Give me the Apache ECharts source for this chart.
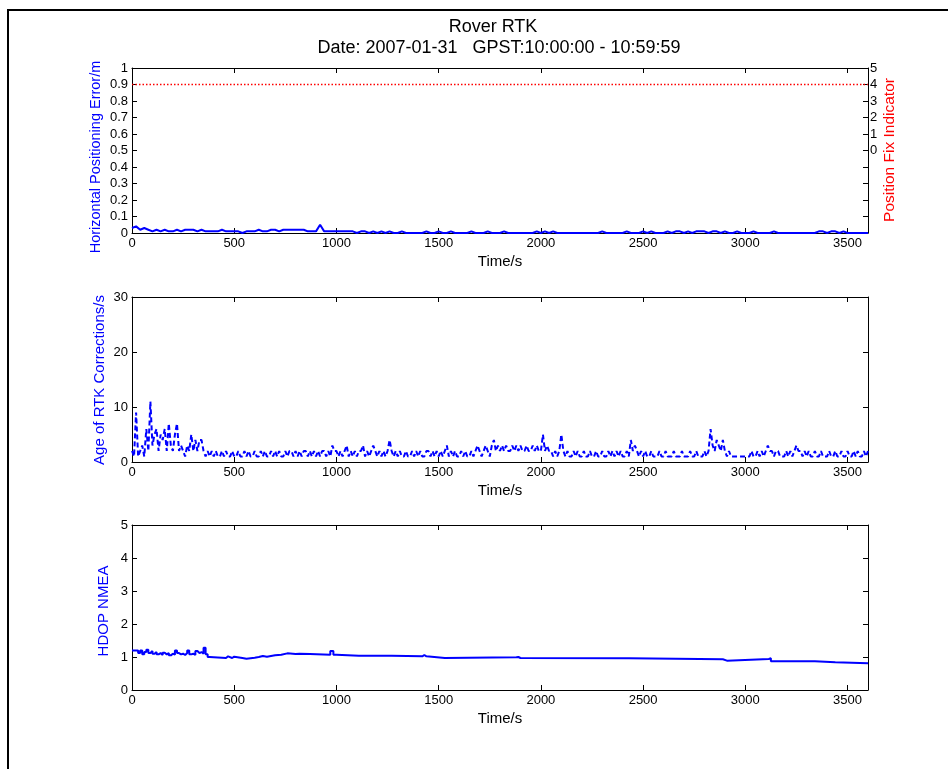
<!DOCTYPE html>
<html>
<head>
<meta charset="utf-8">
<style>
  html, body { margin: 0; padding: 0; background: #fff; }
  #chart { width: 948px; height: 769px; }
</style>
<script src="https://cdn.jsdelivr.net/npm/echarts@6/dist/echarts.min.js"></script>
</head>
<body>
<div id="chart"></div>
<script>
// Rover RTK session, 2007-01-31, one hour of data

// Horizontal positioning error (m), one sample every 20 s
const ERR_STEP = 20;
const errValues = [
  0.03,0.04,0.02,0.03,0.02,0.01,0.02,0.01,0.02,0.01,
  0.01,0.02,0.01,0.02,0.02,0.02,0.01,0.02,0.01,0.01,
  0.01,0.01,0.02,0.01,0.01,0.01,0.01,0.00,0.01,0.01,
  0.01,0.02,0.01,0.01,0.02,0.02,0.01,0.02,0.02,0.02,
  0.02,0.02,0.02,0.01,0.01,0.01,0.05,0.01,0.01,0.01,
  0.01,0.01,0.01,0.01,0.01,0.00,0.01,0.01,0.00,0.01,
  0.00,0.01,0.00,0.01,0.00,0.00,0.01,0.00,0.00,0.00,
  0.00,0.00,0.01,0.00,0.00,0.01,0.00,0.00,0.01,0.00,
  0.00,0.00,0.00,0.01,0.00,0.00,0.00,0.01,0.00,0.00,
  0.00,0.01,0.00,0.00,0.00,0.00,0.00,0.00,0.00,0.01,
  0.00,0.01,0.00,0.01,0.00,0.00,0.00,0.00,0.00,0.00,
  0.00,0.00,0.00,0.00,0.00,0.01,0.00,0.00,0.00,0.00,
  0.00,0.01,0.00,0.00,0.00,0.01,0.00,0.01,0.00,0.00,
  0.00,0.01,0.00,0.01,0.01,0.00,0.01,0.00,0.01,0.01,
  0.01,0.00,0.01,0.01,0.00,0.01,0.00,0.00,0.01,0.00,
  0.00,0.00,0.01,0.00,0.00,0.00,0.00,0.01,0.00,0.00,
  0.00,0.00,0.00,0.00,0.00,0.00,0.00,0.00,0.01,0.01,
  0.00,0.01,0.01,0.00,0.01,0.00,0.00,0.00,0.00,0.00,
  0.00
];

// Position fix indicator (right axis): RTK fixed throughout
const fixPoints = [[0, 4], [3600, 4]];

// Age of RTK corrections (s), one sample every 10 s
const AGE_STEP = 10;
const ageValues = [
  2,1,9,1,2,3,1,6,2,11, 3,5,6,2,5,4,6,2,7,3, 2,5,7,2,3,2,1,3,2,5, 2,4,2,4,4,2,1,2,1,2,
  1,2,1,1,2,1,2,1,1,2, 1,1,2,1,1,2,1,2,1,1, 2,1,1,2,1,2,1,1,2,1, 2,1,2,1,1,2,1,2,2,1, 2,1,2,1,2,2,1,2,1,2, 1,2,1,2,2,1,2,1,3,2,
  2,1,2,1,2,3,1,2,1,2, 1,2,2,3,1,2,1,2,3,2, 1,2,1,2,1,2,4,2,1,2, 1,2,1,1,2,1,1,2,1,2, 1,2,1,1,2,2,1,2,1,2, 1,2,1,2,3,1,2,1,2,1,
  1,2,1,2,1,1,2,1,2,3, 2,1,2,3,2,1,3,4,2,3, 2,3,2,3,2,2,3,2,3,2, 3,2,2,3,2,2,3,2,3,2, 2,5,2,3,2,2,1,2,1,2, 5,2,1,2,1,1,2,1,2,1,
  1,2,1,1,2,1,1,2,1,1, 2,1,1,2,1,2,1,2,1,2, 1,1,2,1,4,2,3,2,1,2, 1,2,1,1,2,1,1,1,2,1, 1,2,1,1,1,2,1,1,1,2, 1,1,1,2,1,1,2,1,1,1,
  2,1,2,6,3,2,4,3,2,4, 2,1,2,1,1,1,1,1,1,1, 1,1,1,2,1,1,2,1,2,1, 2,3,2,2,1,2,2,1,1,1, 2,1,2,1,2,3,2,2,1,2, 1,2,1,1,2,1,1,2,1,1,
  1,2,1,1,2,1,1,2,1,1, 2,1,1,2,1,2,1,1,2,1,2
];

// HDOP from NMEA, [time s, value], held until the next change
const hdopPoints = [
  [0,1.20],[30,1.12],[40,1.20],[50,1.08],[60,1.15],[70,1.22],[80,1.12],[90,1.18],[100,1.10],[110,1.15],
  [120,1.08],[130,1.12],[140,1.06],[150,1.13],[160,1.08],[170,1.12],[180,1.05],[190,1.10],[200,1.07],[210,1.20],
  [220,1.12],[230,1.08],[240,1.10],[250,1.06],[260,1.12],[270,1.20],[280,1.08],[290,1.10],[300,1.06],[310,1.18],
  [320,1.12],[330,1.15],[340,1.10],[350,1.28],[360,1.08],[370,1.00],[380,0.97],[460,1.02],[470,0.97],[490,1.01],
  [500,0.97],[540,0.95],[560,0.98],[600,1.00],[620,1.03],[640,1.01],[660,1.05],[700,1.07],[730,1.11],[760,1.09],
  [800,1.10],[820,1.09],[870,1.07],[970,1.18],[985,1.07],[1000,1.04],[1110,1.07],[1115,1.04],[1270,1.02],[1420,1.06],
  [1430,1.02],[1440,0.97],[1530,0.99],[1880,1.00],[1890,0.97],[1900,0.96],[2430,0.93],[2890,0.89],[2910,0.94],[3115,0.96],
  [3125,0.87],[3340,0.84],[3440,0.81],[3600,0.81]
];

const FONT = 'Liberation Sans, Arial, sans-serif';
const BLUE = '#0000ff';
const RED = '#ff0000';

const errSeries = errValues.map((v, i) => [i * ERR_STEP, v]);
const ageSeries = ageValues.map((v, i) => [i * AGE_STEP, v]);

const grids = [
  { left: 132, top: 68, width: 736, height: 165 },
  { left: 132, top: 297, width: 736, height: 165 },
  { left: 132, top: 525, width: 736, height: 165 }
];

const tickLabel = { color: '#000', fontFamily: FONT, fontSize: 13 };
const axisLine = { show: true, onZero: false, lineStyle: { color: '#000', width: 1 } };
const tickIn = { show: true, inside: true, length: 5, lineStyle: { color: '#000' } };
const plain = v => String(v);

function xAxes(g) {
  return [
    {
      type: 'value', gridIndex: g, position: 'bottom', min: 0, max: 3600, interval: 500,
      axisLine, axisTick: tickIn, splitLine: { show: false },
      axisLabel: Object.assign({ margin: 4, showMaxLabel: false, formatter: plain }, tickLabel),
      name: 'Time/s', nameLocation: 'middle', nameGap: 21,
      nameTextStyle: { color: '#000', fontFamily: FONT, fontSize: 15 }
    },
    {
      type: 'value', gridIndex: g, position: 'top', min: 0, max: 3600, interval: 500,
      axisLine, axisTick: tickIn, axisLabel: { show: false }, splitLine: { show: false }
    }
  ];
}

function yAxis(g, pos, min, max, interval, extra) {
  return Object.assign({
    type: 'value', gridIndex: g, position: pos, min, max, interval,
    axisLine, axisTick: tickIn, splitLine: { show: false },
    axisLabel: Object.assign({ margin: 4, formatter: plain }, tickLabel)
  }, extra || {});
}

// vertical axis titles, centred on the given point
function sideTitle(text, x, y, color, size) {
  return {
    type: 'text', x, y, rotation: Math.PI / 2, silent: true,
    style: { text, fill: color, font: size + 'px ' + FONT, textAlign: 'center', textVerticalAlign: 'middle' }
  };
}

const option = {
  animation: false,
  backgroundColor: '#fff',
  grid: grids,
  graphic: [
    { type: 'polyline', shape: { points: [[8, 769], [8, 10], [948, 10]] },
      style: { stroke: '#000', lineWidth: 2, fill: null }, silent: true },
    { type: 'text', x: 493, y: 27, style: { text: 'Rover RTK', fill: '#000', font: '18px ' + FONT, textAlign: 'center', textVerticalAlign: 'middle' } },
    { type: 'text', x: 499, y: 48, style: { text: 'Date: 2007-01-31   GPST:10:00:00 - 10:59:59', fill: '#000', font: '18px ' + FONT, textAlign: 'center', textVerticalAlign: 'middle' } },
    sideTitle('Horizontal Positioning Error/m', 96, 157, BLUE, 14.5),
    sideTitle('Position Fix Indicator', 890, 150, RED, 15.5),
    sideTitle('Age of RTK Corrections/s', 100, 380, BLUE, 15),
    sideTitle('HDOP NMEA', 104, 611, BLUE, 15)
  ],
  xAxis: [].concat(xAxes(0), xAxes(1), xAxes(2)),
  yAxis: [
    yAxis(0, 'left', 0, 1, 0.1, {
      axisLabel: Object.assign({ margin: 4, formatter: v => String(Math.round(v * 10) / 10) }, tickLabel)
    }),
    yAxis(0, 'right', -5, 5, 1, {
      axisLabel: Object.assign({ margin: 2, formatter: v => (v >= 0 ? String(v) : '') }, tickLabel)
    }),
    yAxis(1, 'left', 0, 30, 10),
    yAxis(1, 'right', 0, 30, 10, { axisLabel: { show: false } }),
    yAxis(2, 'left', 0, 5, 1),
    yAxis(2, 'right', 0, 5, 1, { axisLabel: { show: false } })
  ],
  series: [
    { type: 'line', xAxisIndex: 0, yAxisIndex: 0, data: errSeries, symbol: 'none',
      lineStyle: { color: BLUE, width: 2 }, z: 3 },
    { type: 'line', xAxisIndex: 0, yAxisIndex: 1, data: fixPoints, symbol: 'none',
      lineStyle: { color: RED, width: 1.5, type: [1.5, 2] }, z: 3 },
    { type: 'line', xAxisIndex: 2, yAxisIndex: 2, data: ageSeries, symbol: 'none',
      lineStyle: { color: BLUE, width: 2, type: [5, 3] }, z: 3 },
    { type: 'line', xAxisIndex: 4, yAxisIndex: 4, data: hdopPoints, symbol: 'none', step: 'end',
      lineStyle: { color: BLUE, width: 2 }, z: 3 }
  ]
};

const chart = echarts.init(document.getElementById('chart'), null, { renderer: 'canvas' });
chart.setOption(option);
</script>
</body>
</html>
